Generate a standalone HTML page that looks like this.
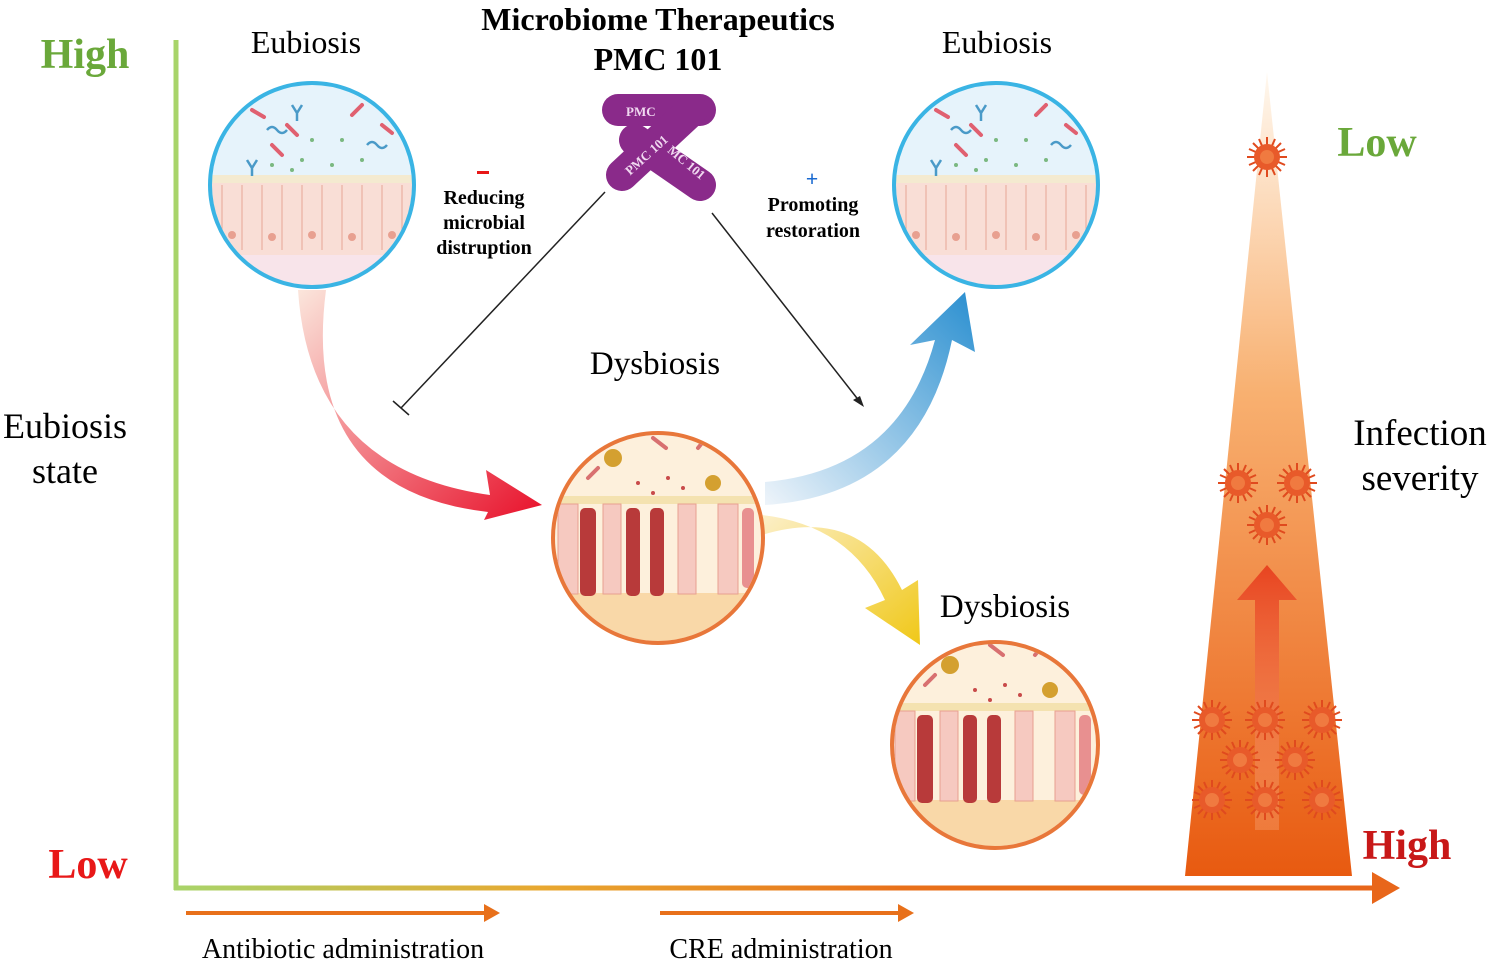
<!DOCTYPE html>
<html><head><meta charset="utf-8"><style>
body{margin:0;background:#fff}
svg{display:block}
text{font-family:"Liberation Serif",serif}
</style></head><body>
<svg width="1498" height="966" viewBox="0 0 1498 966" xmlns="http://www.w3.org/2000/svg">
<defs>
<linearGradient id="xax" gradientUnits="userSpaceOnUse" x1="176" x2="1390" y1="0" y2="0"><stop offset="0" stop-color="#a8d46a"/><stop offset="0.3" stop-color="#e8a830"/><stop offset="0.6" stop-color="#e8701a"/><stop offset="1" stop-color="#e8661a"/></linearGradient>
<linearGradient id="tri" x1="0" x2="0" y1="0" y2="1"><stop offset="0" stop-color="#fff8ef"/><stop offset="0.4" stop-color="#f8b070"/><stop offset="1" stop-color="#e85a10"/></linearGradient>
<linearGradient id="a1" x1="0" x2="1" y1="0" y2="1"><stop offset="0" stop-color="#fbe6dc"/><stop offset="1" stop-color="#e8102a"/></linearGradient>
<linearGradient id="a2" x1="0" x2="1" y1="1" y2="0"><stop offset="0" stop-color="#eef4fa"/><stop offset="1" stop-color="#2a8fd0"/></linearGradient>
<linearGradient id="a3" x1="0" x2="1" y1="0" y2="1"><stop offset="0" stop-color="#fcefc8"/><stop offset="1" stop-color="#f0c818"/></linearGradient>
<linearGradient id="up" x1="0" x2="0" y1="1" y2="0"><stop offset="0" stop-color="#f6a070" stop-opacity="0.4"/><stop offset="1" stop-color="#e84420"/></linearGradient>
<clipPath id="c1"><circle cx="312" cy="185" r="100"/></clipPath>
<clipPath id="c2"><circle cx="996" cy="185" r="100"/></clipPath>
<clipPath id="c3"><circle cx="658" cy="538" r="103"/></clipPath>
<clipPath id="c4"><circle cx="995" cy="745" r="101"/></clipPath>
<g id="virus"><g stroke="#e04a1e" stroke-width="2"><line x1="-20" y1="0" x2="20" y2="0"/><line x1="0" y1="-20" x2="0" y2="20"/><line x1="-14" y1="-14" x2="14" y2="14"/><line x1="-14" y1="14" x2="14" y2="-14"/><line x1="-18" y1="-8" x2="18" y2="8"/><line x1="-8" y1="-18" x2="8" y2="18"/><line x1="-18" y1="8" x2="18" y2="-8"/><line x1="8" y1="-18" x2="-8" y2="18"/></g><circle r="13" fill="#e85a2a"/><circle r="7" fill="#f07a40"/></g>
<g id="eub">
<rect x="-110" y="-110" width="220" height="220" fill="#e6f3fb"/>
<rect x="-110" y="-5" width="220" height="115" fill="#f9ded6"/>
<rect x="-110" y="70" width="220" height="40" fill="#f8e4ea"/>
<g stroke="#eab0a0" stroke-width="1.2" fill="none"><path d="M-90 0 V65 M-70 0V65 M-50 0V65 M-30 0V65 M-10 0V65 M10 0V65 M30 0V65 M50 0V65 M70 0V65 M90 0V65"/></g>
<g fill="#e8a090"><circle cx="-80" cy="50" r="4"/><circle cx="-40" cy="52" r="4"/><circle cx="0" cy="50" r="4"/><circle cx="40" cy="52" r="4"/><circle cx="80" cy="50" r="4"/></g>
<rect x="-110" y="-10" width="220" height="8" fill="#f4ead0"/>
<g stroke="#e06070" stroke-width="4" stroke-linecap="round"><line x1="-60" y1="-75" x2="-48" y2="-68"/><line x1="-25" y1="-60" x2="-15" y2="-50"/><line x1="40" y1="-70" x2="50" y2="-80"/><line x1="70" y1="-60" x2="80" y2="-52"/><line x1="-40" y1="-40" x2="-30" y2="-30"/></g>
<g stroke="#4a9ac8" stroke-width="2.5" fill="none"><path d="M-45 -55 q5 -6 10 0 t10 0"/><path d="M55 -40 q5 -6 10 0 t10 0"/><path d="M-20 -80 l5 8 5 -8 M-15 -72 v8"/><path d="M-65 -25 l5 8 5 -8 M-60 -17 v8"/></g>
<g fill="#7ab880"><circle cx="-40" cy="-20" r="2"/><circle cx="-10" cy="-25" r="2"/><circle cx="20" cy="-20" r="2"/><circle cx="50" cy="-25" r="2"/><circle cx="0" cy="-45" r="2"/><circle cx="30" cy="-45" r="2"/><circle cx="-20" cy="-15" r="2"/></g>
</g>
<g id="dys">
<rect x="-110" y="-110" width="220" height="220" fill="#fdf0dc"/>
<rect x="-110" y="55" width="220" height="60" fill="#f9d8a8"/>
<rect x="-110" y="-42" width="220" height="8" fill="#f4e2b0"/>
<g fill="#f6c9c0" stroke="#e8a090"><rect x="-100" y="-34" width="20" height="90"/><rect x="-55" y="-34" width="18" height="90"/><rect x="20" y="-34" width="18" height="90"/><rect x="60" y="-34" width="20" height="90"/></g>
<g fill="#b83a3a"><rect x="-78" y="-30" width="16" height="88" rx="5"/><rect x="-32" y="-30" width="14" height="88" rx="5"/><rect x="-8" y="-30" width="14" height="88" rx="5"/><rect x="84" y="-30" width="12" height="80" rx="5" fill="#e89090"/></g>
<g fill="#d4a030"><circle cx="-45" cy="-80" r="9"/><circle cx="55" cy="-55" r="8"/></g>
<g fill="#c84a4a"><circle cx="-20" cy="-55" r="2"/><circle cx="10" cy="-60" r="2"/><circle cx="25" cy="-50" r="2"/><circle cx="-5" cy="-45" r="2"/></g>
<g stroke="#d87070" stroke-width="4" stroke-linecap="round"><line x1="-5" y1="-100" x2="8" y2="-90"/><line x1="-70" y1="-60" x2="-60" y2="-70"/><line x1="40" y1="-90" x2="48" y2="-100"/></g>
</g>
</defs>

<!-- axes -->
<line x1="176" y1="40" x2="176" y2="890" stroke="#a8d46a" stroke-width="5"/>
<line x1="174" y1="888" x2="1380" y2="888" stroke="url(#xax)" stroke-width="5"/>
<polygon points="1372,872 1400,888 1372,904" fill="#e8661a"/>
<line x1="186" y1="913" x2="488" y2="913" stroke="#e8701a" stroke-width="4"/>
<polygon points="484,904 500,913 484,922" fill="#e8701a"/>
<line x1="660" y1="913" x2="902" y2="913" stroke="#e8701a" stroke-width="4"/>
<polygon points="898,904 914,913 898,922" fill="#e8701a"/>
<text x="343" y="958" font-size="28" text-anchor="middle">Antibiotic administration</text>
<text x="781" y="958" font-size="28" text-anchor="middle">CRE administration</text>

<text x="85" y="68" font-size="42" font-weight="bold" fill="#6aa83a" text-anchor="middle">High</text>
<text x="88" y="878" font-size="42" font-weight="bold" fill="#e81818" text-anchor="middle">Low</text>
<text x="65" y="438" font-size="36" text-anchor="middle">Eubiosis</text>
<text x="65" y="483" font-size="36" text-anchor="middle">state</text>

<!-- triangle -->
<polygon points="1267,72 1352,876 1185,876" fill="url(#tri)"/>
<polygon points="1255,830 1255,600 1237,600 1267,565 1297,600 1279,600 1279,830" fill="url(#up)"/>
<use href="#virus" x="1267" y="157"/>
<use href="#virus" x="1238" y="483"/><use href="#virus" x="1297" y="483"/><use href="#virus" x="1267" y="525"/>
<use href="#virus" x="1212" y="720"/><use href="#virus" x="1265" y="720"/><use href="#virus" x="1322" y="720"/>
<use href="#virus" x="1240" y="760"/><use href="#virus" x="1295" y="760"/>
<use href="#virus" x="1212" y="800"/><use href="#virus" x="1265" y="800"/><use href="#virus" x="1322" y="800"/>
<text x="1377" y="156" font-size="42" font-weight="bold" fill="#6aa83a" text-anchor="middle">Low</text>
<text x="1407" y="859" font-size="42" font-weight="bold" fill="#c81818" text-anchor="middle">High</text>
<text x="1420" y="445" font-size="37" text-anchor="middle">Infection</text>
<text x="1420" y="490" font-size="37" text-anchor="middle">severity</text>

<!-- curved arrows -->
<path d="M298 290 Q310 470 490 495 L486 470 L542 505 L484 520 L488 512 Q300 490 326 290 Z" fill="url(#a1)"/>
<path d="M765 482 Q900 470 935 340 L910 345 L965 292 L975 352 L952 340 Q920 495 765 505 Z" fill="url(#a2)"/>
<path d="M762 515 Q850 525 885 600 L865 608 L920 645 L918 580 L902 590 Q860 505 762 535 Z" fill="url(#a3)"/>

<!-- circles -->
<g clip-path="url(#c1)"><use href="#eub" x="312" y="185"/></g>
<circle cx="312" cy="185" r="102" fill="none" stroke="#3ab4e4" stroke-width="4"/>
<g clip-path="url(#c2)"><use href="#eub" x="996" y="185"/></g>
<circle cx="996" cy="185" r="102" fill="none" stroke="#3ab4e4" stroke-width="4"/>
<g clip-path="url(#c3)"><use href="#dys" x="658" y="538"/></g>
<circle cx="658" cy="538" r="105" fill="none" stroke="#e8773a" stroke-width="4"/>
<g clip-path="url(#c4)"><use href="#dys" x="995" y="745"/></g>
<circle cx="995" cy="745" r="103" fill="none" stroke="#e8773a" stroke-width="4"/>

<text x="306" y="53" font-size="32" text-anchor="middle">Eubiosis</text>
<text x="997" y="53" font-size="32" text-anchor="middle">Eubiosis</text>
<text x="655" y="374" font-size="33" text-anchor="middle">Dysbiosis</text>
<text x="1005" y="617" font-size="33" text-anchor="middle">Dysbiosis</text>

<text x="658" y="30" font-size="32" font-weight="bold" text-anchor="middle">Microbiome Therapeutics</text>
<text x="658" y="70" font-size="32" font-weight="bold" text-anchor="middle">PMC 101</text>

<!-- bacteria -->
<g stroke="#8a2a8a" stroke-width="32" stroke-linecap="round">
<line x1="618" y1="110" x2="700" y2="110"/>
<line x1="622" y1="175" x2="692" y2="110"/>
<line x1="635" y1="140" x2="700" y2="185"/>
</g>
<g fill="#f0d8f0" font-family="Liberation Sans,sans-serif" font-size="13" font-weight="bold">
<text x="626" y="116">PMC</text>
<text x="622" y="165" transform="rotate(-42 640 160)">PMC 101</text>
<text x="660" y="160" transform="rotate(40 675 165)">MC 101</text>
</g>

<!-- lines -->
<line x1="605" y1="192" x2="401" y2="408" stroke="#222" stroke-width="1.5"/>
<line x1="393" y1="401" x2="409" y2="415" stroke="#222" stroke-width="1.5"/>
<line x1="712" y1="213" x2="860" y2="402" stroke="#222" stroke-width="1.5"/>
<polygon points="864,407 853,400 860,396" fill="#222"/>

<rect x="477" y="171" width="12" height="3" fill="#e81818"/>
<g font-size="20" font-weight="bold" text-anchor="middle">
<text x="484" y="204">Reducing</text><text x="484" y="229">microbial</text><text x="484" y="254">distruption</text>
<text x="813" y="211">Promoting</text><text x="813" y="237">restoration</text>
</g>
<text x="812" y="186" font-size="22" font-weight="bold" fill="#1a6ad0" text-anchor="middle">+</text>
</svg>
</body></html>
